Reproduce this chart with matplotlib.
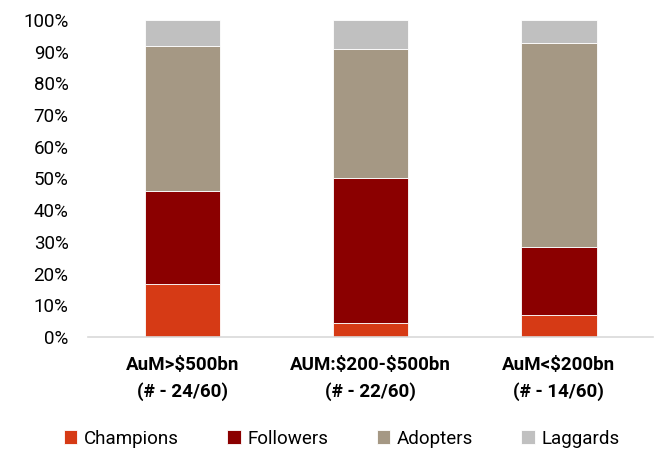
import matplotlib
matplotlib.use("Agg")
import matplotlib.pyplot as plt
from matplotlib.ticker import PercentFormatter

categories = [r"AuM>\$500bn" + "\n(# - 24/60)", r"AUM:\$200-\$500bn" + "\n(# - 22/60)",
              r"AuM<\$200bn" + "\n(# - 14/60)"]
series = ["Champions", "Followers", "Adopters", "Laggards"]
champions = [16.7, 4.5, 7.1]
followers = [29.2, 45.5, 21.4]
adopters = [45.8, 40.9, 64.3]
laggards = [8.3, 9.1, 7.2]
colors = ["#D63A15", "#8B0000", "#A59884", "#C0C0C0"]

plt.rcParams["font.family"] = ["Roboto", "DejaVu Sans"]

fig = plt.figure(figsize=(6.57, 4.5), dpi=100)
ax = fig.add_axes([0.134, 0.251, 0.86, 0.705])

x = range(len(categories))
bottom = [0.0] * len(categories)
for name, vals, c in zip(series, [champions, followers, adopters, laggards], colors):
    ax.bar(x, vals, width=0.4, bottom=bottom, color=c, label=name,
           edgecolor="white", linewidth=0.6)
    bottom = [b + v for b, v in zip(bottom, vals)]

ax.set_xlim(-0.5, len(categories) - 0.5)
ax.set_ylim(0, 100)
ax.set_yticks(range(0, 101, 10))
ax.yaxis.set_major_formatter(PercentFormatter(decimals=0))
ax.set_xticks(list(x))
ax.set_xticklabels(categories, fontweight="bold", fontsize=13.5, linespacing=1.55)
ax.tick_params(axis="y", length=0, labelsize=13.5, pad=14)
ax.tick_params(axis="x", length=0, pad=14)
for s in ["top", "right", "left"]:
    ax.spines[s].set_visible(False)
ax.spines["bottom"].set_color("#D9D9D9")
ax.spines["bottom"].set_linewidth(1.2)

fig.legend(loc="lower center", ncol=4, frameon=False, fontsize=13.5,
           bbox_to_anchor=(0.52, -0.032), handlelength=0.7, handleheight=0.7,
           handletextpad=0.35, columnspacing=2.6)

fig.savefig("out.png", dpi=100)
